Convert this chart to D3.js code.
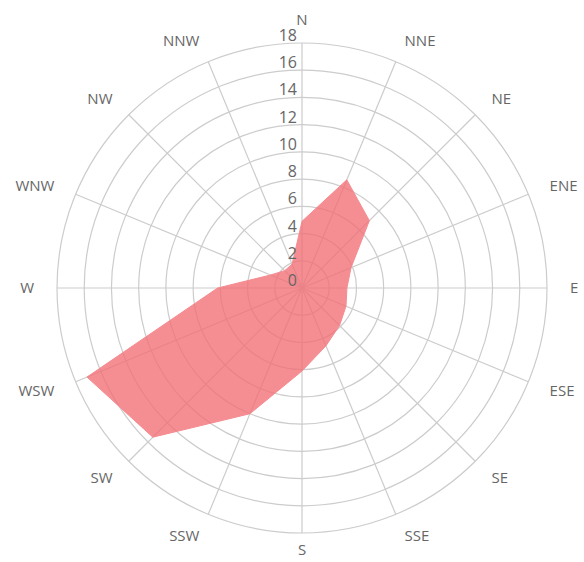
<!DOCTYPE html>
<html>
<head>
<meta charset="utf-8">
<script src="https://cdn.jsdelivr.net/npm/d3@7"></script>
<style>
  html, body { margin: 0; padding: 0; background: #fff; }
  svg text { font-family: "Open Sans", "DejaVu Sans", sans-serif; }
</style>
</head>
<body>
<svg id="chart" width="584" height="562"></svg>
<script>
const directions = ["N","NNE","NE","ENE","E","ESE","SE","SSE","S","SSW","SW","WSW","W","WNW","NW","NNW"];
const values = [4.9, 8.6, 7.0, 3.9, 3.3, 3.5, 3.9, 4.6, 6.1, 10.0, 15.5, 17.1, 6.2, 2.5, 1.8, 1.9];
const radialTicks = [0, 2, 4, 6, 8, 10, 12, 14, 16, 18];

const svg = d3.select("#chart");
const cx = 302, cy = 288, R = 245;
const g = svg.append("g").attr("transform", `translate(${cx},${cy})`);

const r = d3.scaleLinear().domain([0, 18]).range([0, R]);
const angle = d3.scaleBand().domain(directions).range([0, 2 * Math.PI]).align(0).paddingInner(0).paddingOuter(0);
const ang = d => angle(d); // N at 0, clockwise

const gridColor = "#cccccc";

// rings
g.selectAll("circle.ring").data(radialTicks.filter(t => t > 0)).enter()
  .append("circle").attr("class", "ring")
  .attr("r", d => r(d)).attr("fill", "none")
  .attr("stroke", gridColor).attr("stroke-width", 1.2);

// spokes
g.selectAll("line.spoke").data(directions).enter()
  .append("line").attr("class", "spoke")
  .attr("x1", 0).attr("y1", 0)
  .attr("x2", d => R * Math.sin(ang(d)))
  .attr("y2", d => -R * Math.cos(ang(d)))
  .attr("stroke", gridColor).attr("stroke-width", 1.2);

// data polygon
const line = d3.lineRadial()
  .angle((d, i) => ang(directions[i]))
  .radius(d => r(d))
  .curve(d3.curveLinearClosed);
g.append("path").datum(values)
  .attr("d", line)
  .attr("fill", "rgb(242,110,116)")
  .attr("fill-opacity", 0.78)
  .attr("stroke", "rgb(246,140,145)")
  .attr("stroke-width", 1);

// radial tick labels
g.selectAll("text.tick").data(radialTicks).enter()
  .append("text").attr("class", "tick")
  .attr("x", -5)
  .attr("y", d => -r(d) - 2)
  .attr("text-anchor", "end")
  .attr("font-size", 16)
  .attr("fill", "#666")
  .text(d => d);

// direction labels
const LR = 268;
g.selectAll("text.dir").data(directions).enter()
  .append("text").attr("class", "dir")
  .attr("x", d => LR * Math.sin(ang(d)))
  .attr("y", d => d === "S" ? 262 : -LR * Math.cos(ang(d)))
  .attr("dy", "0.35em")
  .attr("text-anchor", d => {
    const s = Math.sin(ang(d));
    return s > 0.1 ? "start" : (s < -0.1 ? "end" : "middle");
  })
  .attr("font-size", 15)
  .attr("fill", "#666")
  .text(d => d);
</script>
</body>
</html>
